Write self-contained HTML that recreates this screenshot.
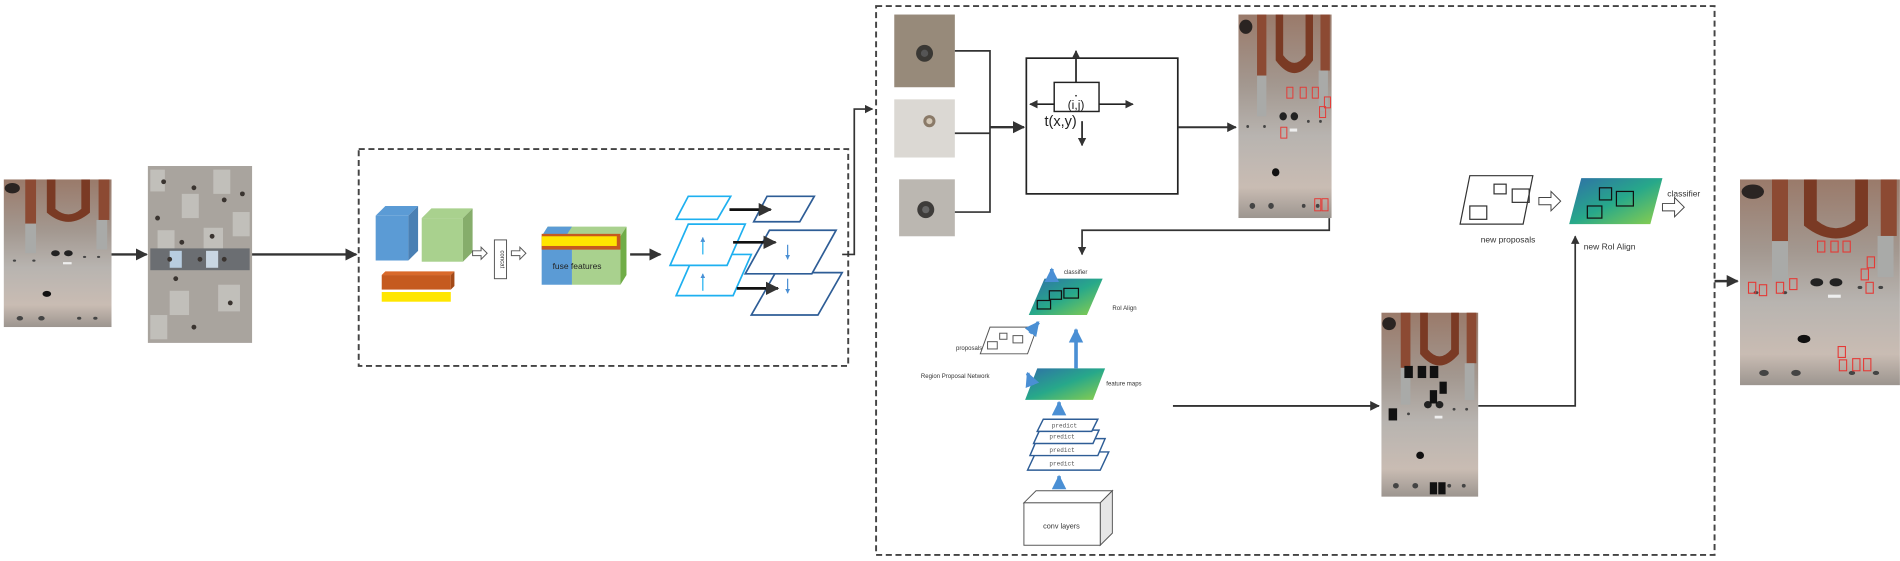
<!DOCTYPE html>
<html><head><meta charset="utf-8"><style>html,body{margin:0;padding:0;background:#fff}svg{display:block}</style></head>
<body>
<svg width="1900" height="561" viewBox="0 0 1568 463" xmlns="http://www.w3.org/2000/svg" font-family="Liberation Sans, sans-serif">
<defs>
<linearGradient id="pg" x1="0" y1="0" x2="0" y2="1">
<stop offset="0" stop-color="#9a7a6a"/><stop offset="0.35" stop-color="#a39890"/><stop offset="0.6" stop-color="#b8b4b0"/><stop offset="0.85" stop-color="#c9bcb3"/><stop offset="1" stop-color="#9c958f"/></linearGradient>
<linearGradient id="fm" x1="0" y1="0" x2="1" y2="1"><stop offset="0" stop-color="#2f6fa8"/><stop offset="0.5" stop-color="#27a88a"/><stop offset="1" stop-color="#8fd04a"/></linearGradient>
<symbol id="plate" viewBox="0 0 100 200" preserveAspectRatio="none">
<rect width="100" height="200" fill="url(#pg)"/>
<path d="M40 0 v45 q20 25 40 0 v-45 h-8 v40 q-12 15 -24 0 v-40z" fill="#7a3a24"/>
<rect x="20" y="0" width="10" height="60" fill="#8c4a33"/><rect x="88" y="0" width="10" height="55" fill="#8c4a33"/>
<rect x="20" y="60" width="10" height="40" fill="#a9aaa8"/><rect x="86" y="55" width="10" height="40" fill="#a9aaa8"/>
<circle cx="8" cy="12" r="7" fill="#2a2422"/>
<circle cx="48" cy="100" r="4" fill="#222"/><circle cx="60" cy="100" r="4" fill="#222"/>
<circle cx="40" cy="155" r="4" fill="#111"/>
<g fill="#444"><circle cx="10" cy="110" r="1.5"/><circle cx="28" cy="110" r="1.5"/><circle cx="75" cy="105" r="1.5"/><circle cx="88" cy="105" r="1.5"/><circle cx="70" cy="188" r="2"/><circle cx="85" cy="188" r="2"/><circle cx="15" cy="188" r="3"/><circle cx="35" cy="188" r="3"/></g>
<rect x="55" y="112" width="8" height="3" fill="#eee"/>
</symbol>
<marker id="ah" viewBox="0 0 10 10" refX="9" refY="5" markerWidth="5" markerHeight="5" orient="auto"><path d="M0 0L10 5L0 10z" fill="#333"/></marker>
<marker id="ahb" viewBox="0 0 10 10" refX="9" refY="5" markerWidth="4" markerHeight="4" orient="auto"><path d="M0 0L10 5L0 10z" fill="#4a8fd4"/></marker>
</defs>

<use href="#plate" x="3" y="148" width="89" height="122"/>
<line x1="92" y1="210" x2="121" y2="210" stroke="#333" stroke-width="2" marker-end="url(#ah)"/>
<g>
<rect x="122" y="137" width="86" height="146" fill="#a9a49e"/>
<g fill="#c8c6c2" opacity="0.8">
<rect x="124" y="140" width="12" height="18"/><rect x="150" y="160" width="14" height="20"/><rect x="176" y="140" width="14" height="20"/><rect x="130" y="190" width="14" height="22"/><rect x="168" y="188" width="16" height="22"/><rect x="192" y="175" width="14" height="20"/><rect x="140" y="240" width="16" height="20"/><rect x="180" y="235" width="18" height="22"/><rect x="124" y="260" width="14" height="20"/></g>
<rect x="124" y="205" width="82" height="18" fill="#6b6e72"/><rect x="140" y="207" width="10" height="14" fill="#b8cde0"/><rect x="170" y="207" width="10" height="14" fill="#c9d6e2"/>
<g fill="#3a3430"><circle cx="135" cy="150" r="2"/><circle cx="160" cy="155" r="2"/><circle cx="185" cy="165" r="2"/><circle cx="130" cy="180" r="2"/><circle cx="150" cy="200" r="2"/><circle cx="175" cy="195" r="2"/><circle cx="200" cy="160" r="2"/><circle cx="145" cy="230" r="2"/><circle cx="190" cy="250" r="2"/><circle cx="160" cy="270" r="2"/><circle cx="140" cy="214" r="2"/><circle cx="165" cy="214" r="2"/><circle cx="185" cy="214" r="2"/></g>
</g>
<line x1="208" y1="210" x2="294" y2="210" stroke="#333" stroke-width="2" marker-end="url(#ah)"/>

<rect x="296" y="123" width="404" height="179" fill="none" stroke="#444" stroke-width="1.6" stroke-dasharray="5,3"/>
<polygon points="310,178 318,170 345,170 337,178" fill="#5b9bd5"/><rect x="310" y="178" width="27" height="37" fill="#5b9bd5"/><polygon points="337,178 345,170 345,207 337,215" fill="#4a80b4"/>
<polygon points="348,180 356,172 390,172 382,180" fill="#a9d18e"/><rect x="348" y="180" width="34" height="36" fill="#a9d18e"/><polygon points="382,180 390,172 390,208 382,216" fill="#86ad6b"/>
<polygon points="315,227 318,224 375,224 372,227" fill="#d9692a"/><rect x="315" y="227" width="57" height="12" fill="#c55a1f"/><polygon points="372,227 375,224 375,236 372,239" fill="#a34a18"/>
<rect x="315" y="241" width="57" height="8" fill="#ffe600"/>
<path d="M390 207h7v-3l5 5-5 5v-3h-7z" fill="#fff" stroke="#555" stroke-width="0.8"/>
<rect x="408" y="198" width="10" height="32" fill="#fff" stroke="#555" stroke-width="0.8"/>
<text x="413" y="214" font-size="5" transform="rotate(90 413 214)" text-anchor="middle" fill="#333">concat</text>
<path d="M422 207h7v-3l5 5-5 5v-3h-7z" fill="#fff" stroke="#555" stroke-width="0.8"/>
<polygon points="447,195 452,187 517,187 512,195" fill="#a9d18e"/>
<polygon points="447,195 452,187 472,187 467,195" fill="#5b9bd5"/>
<rect x="447" y="195" width="25" height="40" fill="#5b9bd5"/><rect x="472" y="195" width="40" height="40" fill="#a9d18e"/>
<polygon points="512,195 517,187 517,227 512,235" fill="#70ad47"/>
<rect x="447" y="193" width="65" height="13" fill="#c55a1f"/><rect x="447" y="195" width="62" height="8" fill="#ffe600"/>
<text x="456" y="222" font-size="7" fill="#222">fuse features</text>
<line x1="520" y1="210" x2="545" y2="210" stroke="#333" stroke-width="2" marker-end="url(#ah)"/>
<g fill="#fff" stroke="#1eb0f0" stroke-width="1.4">
<polygon points="558,244 573,210 620,210 605,244"/>
<polygon points="553,219 568,185 615,185 600,219"/>
<polygon points="558,181 568,162 603,162 592,181"/>
</g>
<line x1="580" y1="210" x2="580" y2="196" stroke="#1eb0f0" stroke-width="1" marker-end="url(#ahb)"/>
<line x1="580" y1="240" x2="580" y2="226" stroke="#1eb0f0" stroke-width="1" marker-end="url(#ahb)"/>
<g fill="#fff" stroke="#2e5d96" stroke-width="1.4">
<polygon points="620,260 640,225 695,225 675,260"/>
<polygon points="615,226 635,190 690,190 670,226"/>
<polygon points="622,183 633,162 672,162 660,183"/>
</g>
<line x1="650" y1="202" x2="650" y2="214" stroke="#4a8fd4" stroke-width="1" marker-end="url(#ahb)"/>
<line x1="650" y1="230" x2="650" y2="242" stroke="#4a8fd4" stroke-width="1" marker-end="url(#ahb)"/>
<g stroke="#111" stroke-width="2.2"><line x1="602" y1="173" x2="636" y2="173" marker-end="url(#ah)"/><line x1="605" y1="200" x2="640" y2="200" marker-end="url(#ah)"/><line x1="608" y1="238" x2="642" y2="238" marker-end="url(#ah)"/></g>
<polyline points="695,210 705,210 705,90 720,90" fill="none" stroke="#333" stroke-width="1.4" marker-end="url(#ah)"/>

<rect x="723" y="5" width="692" height="453" fill="none" stroke="#444" stroke-width="1.6" stroke-dasharray="5,3"/>
<rect x="738" y="12" width="50" height="60" fill="#978a7a"/><circle cx="763" cy="44" r="7" fill="#3a3834"/><circle cx="763" cy="44" r="3" fill="#555"/>
<rect x="738" y="82" width="50" height="48" fill="#dbd8d3"/><circle cx="767" cy="100" r="5" fill="#8a7a68"/><circle cx="767" cy="100" r="2.5" fill="#d4c8b6"/>
<rect x="742" y="148" width="46" height="47" fill="#bbb7b1"/><circle cx="764" cy="173" r="7" fill="#3e3c3a"/><circle cx="764" cy="173" r="3" fill="#666"/>
<g fill="none" stroke="#333" stroke-width="1.4"><polyline points="788,42 817,42 817,175 788,175"/><line x1="788" y1="110" x2="817" y2="110"/></g>
<line x1="817" y1="105" x2="845" y2="105" stroke="#333" stroke-width="2" marker-end="url(#ah)"/>
<rect x="847" y="48" width="125" height="112" fill="#fff" stroke="#222" stroke-width="1.4"/>
<rect x="870" y="68" width="37" height="24" fill="#fff" stroke="#222" stroke-width="1.2"/>
<text x="888" y="90" font-size="10" text-anchor="middle" fill="#222">(i,j)</text><circle cx="888" cy="79" r="0.7" fill="#222"/>
<text x="862" y="104" font-size="12" fill="#222">t(x,y)</text>
<g stroke="#222" stroke-width="1.4"><line x1="888" y1="68" x2="888" y2="42" marker-end="url(#ah)"/><line x1="870" y1="86" x2="850" y2="86" marker-end="url(#ah)"/><line x1="907" y1="86" x2="935" y2="86" marker-end="url(#ah)"/><line x1="893" y1="100" x2="893" y2="120" marker-end="url(#ah)"/></g>
<line x1="972" y1="105" x2="1020" y2="105" stroke="#333" stroke-width="1.6" marker-end="url(#ah)"/>
<use href="#plate" x="1022" y="12" width="77" height="168"/>
<g fill="none" stroke="#e53935" stroke-width="0.8"><rect x="1062" y="72" width="5" height="9"/><rect x="1073" y="72" width="5" height="9"/><rect x="1083" y="72" width="5" height="9"/><rect x="1093" y="80" width="5" height="9"/><rect x="1089" y="88" width="5" height="9"/><rect x="1057" y="105" width="5" height="9"/><rect x="1085" y="164" width="5" height="10"/><rect x="1091" y="164" width="5" height="10"/></g>
<polyline points="1097,180 1097,190 893,190 893,210" fill="none" stroke="#333" stroke-width="1.4" marker-end="url(#ah)"/>
<text x="878" y="226" font-size="5" fill="#333">classifier</text>
<polygon points="849,260 862,230 910,230 897,260" fill="url(#fm)"/>
<g fill="none" stroke="#111" stroke-width="1"><rect x="866" y="240" width="10" height="7"/><rect x="878" y="238" width="12" height="8"/><rect x="856" y="248" width="11" height="7"/></g>
<text x="918" y="256" font-size="5" fill="#333">RoI Align</text>
<polygon points="809,292 817,270 856,270 848,292" fill="#fff" stroke="#555" stroke-width="0.8"/>
<g fill="none" stroke="#555" stroke-width="0.8"><rect x="815" y="282" width="8" height="6"/><rect x="825" y="275" width="6" height="5"/><rect x="836" y="277" width="8" height="6"/></g>
<text x="789" y="289" font-size="5" fill="#333">proposals</text>
<polygon points="846,330 856,304 912,304 902,330" fill="url(#fm)"/>
<text x="760" y="312" font-size="5" fill="#333">Region Proposal Network</text>
<text x="913" y="318" font-size="5" fill="#333">feature maps</text>
<g stroke="#4a8fd4" stroke-width="3"><line x1="888" y1="304" x2="888" y2="272" marker-end="url(#ahb)"/><line x1="850" y1="275" x2="857" y2="266" marker-end="url(#ahb)"/><line x1="852" y1="318" x2="848" y2="308" marker-end="url(#ahb)"/><line x1="868" y1="230" x2="868" y2="222" marker-end="url(#ahb)"/><line x1="874" y1="340" x2="874" y2="332" marker-end="url(#ahb)"/><line x1="874" y1="400" x2="874" y2="393" marker-end="url(#ahb)"/></g>
<g fill="#fff" stroke="#2e5d96" stroke-width="1.2">
<polygon points="848,388 855,373 915,373 908,388"/>
<polygon points="850,376 856,362 912,362 906,376"/>
<polygon points="853,366 858,355 907,355 902,366"/>
<polygon points="856,356 861,346 906,346 901,356"/>
</g>
<g font-size="5" fill="#555" font-family="Liberation Mono, monospace"><text x="868" y="353">predict</text><text x="866" y="362">predict</text><text x="866" y="373">predict</text><text x="866" y="384">predict</text></g>
<polygon points="845,415 855,405 918,405 908,415" fill="#fff" stroke="#555" stroke-width="0.8"/>
<polygon points="908,415 918,405 918,440 908,450" fill="#e6e6e6" stroke="#555" stroke-width="0.8"/>
<rect x="845" y="415" width="63" height="35" fill="#fff" stroke="#555" stroke-width="0.8"/>
<text x="876" y="436" font-size="6" text-anchor="middle" fill="#333">conv layers</text>
<line x1="968" y1="335" x2="1138" y2="335" stroke="#333" stroke-width="1.6" marker-end="url(#ah)"/>
<use href="#plate" x="1140" y="258" width="80" height="152"/>
<g fill="#111"><rect x="1159" y="302" width="7" height="10"/><rect x="1170" y="302" width="7" height="10"/><rect x="1180" y="302" width="7" height="10"/><rect x="1188" y="315" width="6" height="10"/><rect x="1180" y="322" width="6" height="11"/><rect x="1146" y="337" width="7" height="10"/><rect x="1180" y="398" width="6" height="10"/><rect x="1187" y="398" width="6" height="10"/></g>
<polyline points="1220,335 1300,335 1300,195" fill="none" stroke="#333" stroke-width="1.4" marker-end="url(#ah)"/>
<polygon points="1205,185 1213,145 1265,145 1257,185" fill="#fff" stroke="#333" stroke-width="1"/>
<g fill="none" stroke="#333" stroke-width="1"><rect x="1233" y="152" width="10" height="8"/><rect x="1248" y="156" width="14" height="11"/><rect x="1213" y="170" width="14" height="11"/></g>
<text x="1222" y="200" font-size="7" fill="#333">new proposals</text>
<path d="M1270 163h10v-5l8 8-8 8v-5h-10z" fill="#fff" stroke="#444" stroke-width="0.8"/>
<polygon points="1295,185 1305,147 1372,147 1362,185" fill="url(#fm)"/>
<g fill="none" stroke="#111" stroke-width="1"><rect x="1320" y="155" width="10" height="10"/><rect x="1334" y="158" width="14" height="12"/><rect x="1310" y="170" width="12" height="10"/></g>
<text x="1307" y="206" font-size="7" fill="#333">new RoI Align</text>
<text x="1376" y="162" font-size="7" fill="#333">classifier</text>
<path d="M1372 168h10v-5l8 8-8 8v-5h-10z" fill="#fff" stroke="#444" stroke-width="0.8"/>
<line x1="1415" y1="232" x2="1434" y2="232" stroke="#333" stroke-width="2" marker-end="url(#ah)"/>
<use href="#plate" x="1436" y="148" width="132" height="170"/>
<g fill="none" stroke="#e53935" stroke-width="0.9"><rect x="1500" y="199" width="6" height="9"/><rect x="1511" y="199" width="6" height="9"/><rect x="1521" y="199" width="6" height="9"/><rect x="1541" y="212" width="6" height="9"/><rect x="1536" y="222" width="6" height="9"/><rect x="1540" y="233" width="6" height="9"/><rect x="1443" y="233" width="6" height="9"/><rect x="1452" y="235" width="6" height="9"/><rect x="1466" y="233" width="6" height="9"/><rect x="1477" y="230" width="6" height="9"/><rect x="1517" y="286" width="6" height="9"/><rect x="1518" y="297" width="6" height="9"/><rect x="1529" y="296" width="6" height="10"/><rect x="1538" y="296" width="6" height="10"/></g>
</svg>
</body></html>
